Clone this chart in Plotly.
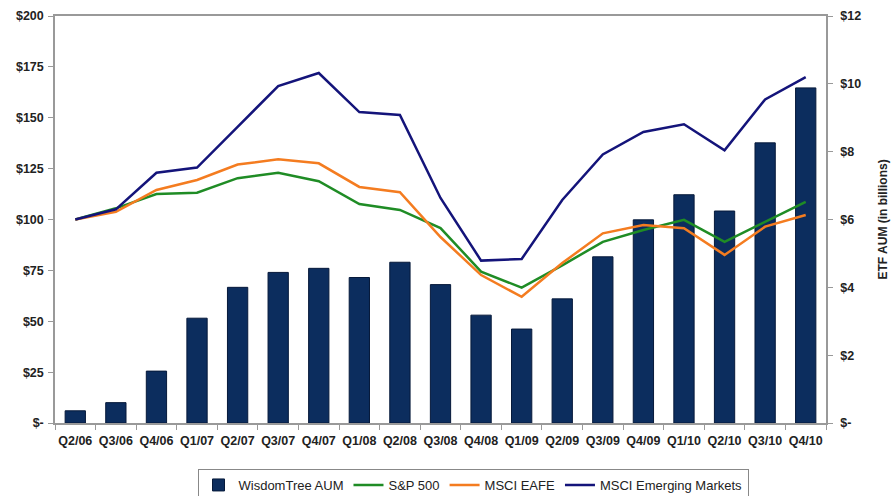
import plotly.graph_objects as go

quarters = ["Q2/06", "Q3/06", "Q4/06", "Q1/07", "Q2/07", "Q3/07", "Q4/07", "Q1/08", "Q2/08", "Q3/08",
            "Q4/08", "Q1/09", "Q2/09", "Q3/09", "Q4/09", "Q1/10", "Q2/10", "Q3/10", "Q4/10"]
wisdomtree_aum = [0.36, 0.6, 1.53, 3.09, 4.0, 4.44, 4.56, 4.29, 4.74, 4.08,
                  3.18, 2.77, 3.66, 4.9, 5.99, 6.73, 6.25, 8.26, 9.88]
sp500 = [100, 105.5, 112.5, 113.2, 120.3, 123, 118.8, 107.6, 104.7, 95.8,
         74.4, 66.5, 77.5, 89, 94.8, 99.8, 89, 98.8, 108.7]
msci_eafe = [100, 103.8, 114.5, 119.4, 127, 129.6, 127.6, 116, 113.4, 91.4,
             72.7, 62, 78.6, 93.2, 97.3, 95.7, 82.6, 96.5, 102.2]
msci_em = [100, 105, 123, 125.5, 145.5, 165.6, 172, 152.8, 151.4, 110.6,
           79.8, 80.6, 109.6, 132, 143, 146.8, 134, 159, 170]

left_ticks = [0, 25, 50, 75, 100, 125, 150, 175, 200]
left_labels = ["$-", "$25", "$50", "$75", "$100", "$125", "$150", "$175", "$200"]
right_ticks = [0, 2, 4, 6, 8, 10, 12]
right_labels = ["$-", "$2", "$4", "$6", "$8", "$10", "$12"]

font_family = "Liberation Sans, Arial, sans-serif"
L, R, T, B = 55, 65, 16, 73
W, H = 891, 496
pw = W - L - R
ph = H - T - B

fig = go.Figure()
fig.add_trace(go.Bar(x=quarters, y=wisdomtree_aum, name="WisdomTree AUM",
                     marker=dict(color="#0c2d5e", line=dict(color="#06193a", width=1)),
                     yaxis="y", width=0.5))
fig.add_trace(go.Scatter(x=quarters, y=sp500, name="S&P 500", mode="lines",
                         line=dict(color="#1f8c25", width=2.5), yaxis="y2"))
fig.add_trace(go.Scatter(x=quarters, y=msci_eafe, name="MSCI EAFE", mode="lines",
                         line=dict(color="#f47c20", width=2.5), yaxis="y2"))
fig.add_trace(go.Scatter(x=quarters, y=msci_em, name="MSCI Emerging Markets", mode="lines",
                         line=dict(color="#14147a", width=2.5), yaxis="y2"))

tickfont = dict(size=12.5, family=font_family, weight="bold", color="#222")

fig.update_layout(
    width=W, height=H,
    margin=dict(l=L, r=R, t=T, b=B, autoexpand=False),
    paper_bgcolor="white", plot_bgcolor="white",
    font=dict(family=font_family, size=12, color="#222"),
    xaxis=dict(showline=True, linecolor="#999", linewidth=1.5, mirror=True,
               ticks="outside", tickson="boundaries", ticklen=5, tickcolor="#999",
               tickangle=0, tickfont=tickfont, showgrid=False, automargin=False,
               ticklabelstandoff=5),
    yaxis=dict(side="right", range=[0, 12], tickvals=right_ticks, ticktext=right_labels,
               showgrid=False, showline=True, linecolor="#999", linewidth=1.5,
               ticks="outside", ticklen=5, tickcolor="#999", automargin=False,
               tickfont=tickfont, ticklabelstandoff=5),
    yaxis2=dict(side="left", overlaying="y", range=[0, 200], tickvals=left_ticks,
                ticktext=left_labels, showgrid=False, showline=True, linecolor="#999",
                linewidth=1.5, ticks="outside", ticklen=5, tickcolor="#999",
                automargin=False, tickfont=tickfont, ticklabelstandoff=2),
    legend=dict(orientation="h", x=(473 - L) / pw, xanchor="center",
                y=-(469 - (T + ph)) / ph, yanchor="top",
                bordercolor="#888", borderwidth=1, font=dict(size=13, family=font_family),
                itemwidth=30, traceorder="normal", tracegroupgap=0),
    annotations=[dict(text="ETF AUM (in billions)", xref="paper", yref="paper",
                      x=(882 - L) / pw, y=0.5, xanchor="center", yanchor="middle",
                      textangle=-90, showarrow=False,
                      font=dict(size=12, family=font_family, weight="bold", color="#222"))],
)

fig.write_html("out.html", config={"displayModeBar": False},
               post_script="document.body.style.margin='0';")
